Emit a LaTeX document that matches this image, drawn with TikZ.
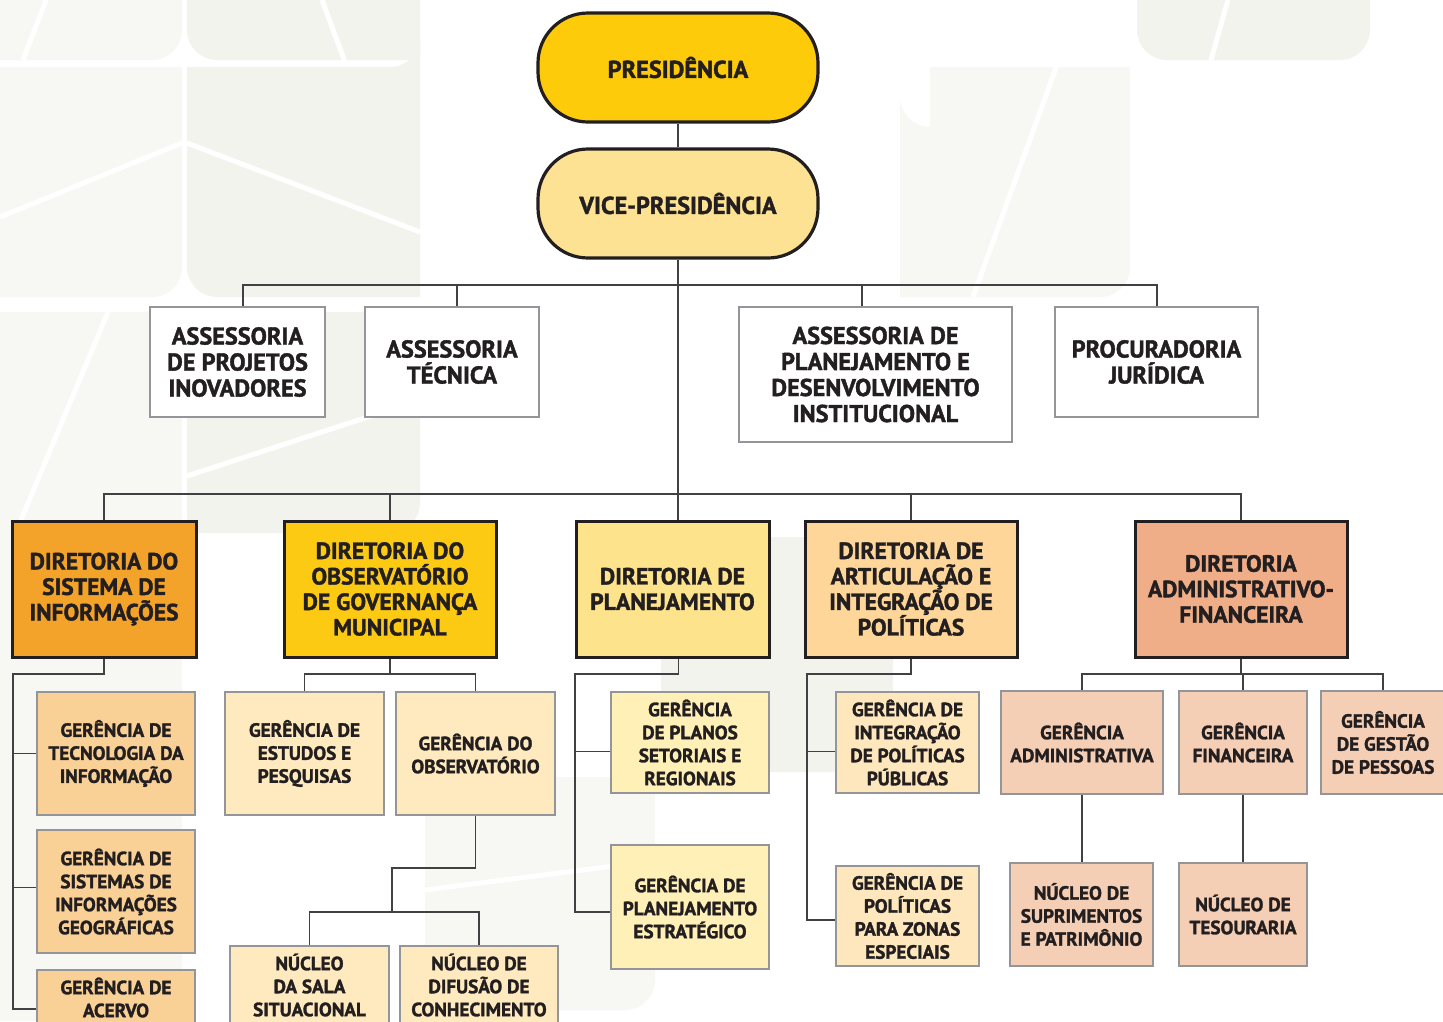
\documentclass[tikz,border=0pt]{standalone}
\usepackage{fontspec}
\setmainfont{PT Sans}[BoldFeatures={FakeBold=1.6}]
\definecolor{ink}{HTML}{231F20}
\definecolor{grayb}{HTML}{939598}
\definecolor{linec}{HTML}{414042}
\definecolor{bgA}{HTML}{F7F7F3}
\definecolor{bgB}{HTML}{F3F3EE}
\definecolor{cpres}{HTML}{FECB0B}
\definecolor{cvp}{HTML}{FDE294}
\definecolor{cdA}{HTML}{F4A32A}
\definecolor{cdB}{HTML}{FCC913}
\definecolor{cdC}{HTML}{FDE38B}
\definecolor{cdD}{HTML}{FED699}
\definecolor{cdE}{HTML}{EFAE88}
\definecolor{cgA}{HTML}{F9D197}
\definecolor{cgB}{HTML}{FEEABE}
\definecolor{cgC}{HTML}{FEF0B7}
\definecolor{cgD}{HTML}{FEE7BD}
\definecolor{cgE}{HTML}{F5CFB5}
\tikzset{
  base/.style={draw, align=center, text=ink, inner sep=0pt},
  sz/.style 2 args={minimum width=#1pt, minimum height=#2pt},
  pill/.style={base, draw=ink, line width=3.2pt, rounded corners=50pt,
    sz={280}{109}, font=\bfseries\fontsize{24.3}{26}\selectfont},
  dirbox/.style={base, draw=ink, line width=3pt, font=\bfseries\fontsize{23.5}{25.5}\selectfont},
  assbox/.style={base, draw=grayb, fill=white, line width=2.5pt, font=\bfseries\fontsize{24.3}{26}\selectfont},
  gerbox/.style={base, draw=grayb, line width=2.5pt, font=\bfseries\fontsize{19.2}{23}\selectfont},
  conn/.style={draw=linec, line width=1.3pt},
  gap/.style={draw=white, line width=5pt},
}
\begin{document}
\begin{tikzpicture}[x=1pt,y=-1pt]
\useasboundingbox (0,0) rectangle (1443,1021);
\clip (0,0) rectangle (1443,1021);
\fill[white] (0,0) rectangle (1443,1021);
% ---- background tiles ----
\fill[bgA] (0,0) -- (182,0) -- (182,30) arc[start angle=0,end angle=90,radius=30] -- (0,60) -- cycle;
\fill[bgB] (187,0) -- (420,0) -- (420,60) -- (217,60) arc[start angle=90,end angle=180,radius=30] -- cycle;
\fill[bgA] (0,67) -- (182,67) -- (182,267) arc[start angle=0,end angle=90,radius=30] -- (0,297) -- cycle;
\fill[bgB] (187,67) -- (390,67) arc[start angle=90,end angle=0,radius=30] -- (420,297) -- (217,297) arc[start angle=90,end angle=180,radius=30] -- cycle;
\fill[bgA] (0,312) rectangle (182,1021);
\fill[bgB] (187,312) -- (420,312) -- (420,503) arc[start angle=0,end angle=90,radius=30] -- (187,533) -- cycle;
\fill[bgA] (425,777) -- (655,777) -- (655,980) arc[start angle=0,end angle=90,radius=30] -- (425,1010) -- cycle;
\fill[bgB] (661,537) -- (893,537) -- (893,742) arc[start angle=0,end angle=90,radius=30] -- (661,772) -- cycle;
\fill[bgA] (930,67) -- (1130,67) -- (1130,267) arc[start angle=0,end angle=90,radius=30] -- (900,297) -- (900,97) arc[start angle=180,end angle=90,radius=30] -- cycle;
\fill[bgB] (1137,0) -- (1370,0) -- (1370,30) arc[start angle=0,end angle=90,radius=30] -- (1167,60) arc[start angle=90,end angle=180,radius=30] -- cycle;
\draw[gap] (46,0) -- (23,60);
\draw[gap] (322,0) -- (345,62);
\draw[gap] (0,217) -- (182,143);
\draw[gap] (187,143) -- (420,232);
\draw[gap] (108,312) -- (21,520);
\draw[gap] (187,476) -- (420,400);
\draw[gap] (1057,65) -- (973,297);
\draw[gap] (1228,0) -- (1211,60);
\draw[gap] (425,890) -- (661,860);
% ---- top ----
\node[pill, fill=cpres] (pres) at (678,67.5) {PRESIDÊNCIA};
\node[pill, fill=cvp] (vp) at (678,203.5) {VICE-PRESIDÊNCIA};
% ---- assessorias ----
\node[assbox, sz={175}{110}] (a1) at (237.5,362) {ASSESSORIA\\DE PROJETOS\\INOVADORES};
\node[assbox, sz={174}{110}] (a2) at (452,362) {ASSESSORIA\\TÉCNICA};
\node[assbox, sz={273}{135}] (a3) at (875.5,374.5) {ASSESSORIA DE\\PLANEJAMENTO E\\DESENVOLVIMENTO\\INSTITUCIONAL};
\node[assbox, sz={203}{110}] (a4) at (1156.5,362) {PROCURADORIA\\JURÍDICA};
% ---- diretorias ----
\node[dirbox, fill=cdA, sz={184}{136}] (d1) at (104,589) {DIRETORIA DO\\SISTEMA DE\\INFORMAÇÕES};
\node[dirbox, fill=cdB, sz={212}{136}] (d2) at (390,589) {DIRETORIA DO\\OBSERVATÓRIO\\DE GOVERNANÇA\\MUNICIPAL};
\node[dirbox, fill=cdC, sz={193}{136}] (d3) at (672.5,589) {DIRETORIA DE\\PLANEJAMENTO};
\node[dirbox, fill=cdD, sz={212}{136}] (d4) at (911,589) {DIRETORIA DE\\ARTICULAÇÃO E\\INTEGRAÇÃO DE\\POLÍTICAS};
\node[dirbox, fill=cdE, sz={212}{136}] (d5) at (1241,589) {DIRETORIA\\ADMINISTRATIVO-\\FINANCEIRA};
% ---- gerencias ----
\node[gerbox, fill=cgA, sz={158}{123}] (g1) at (116,753.5) {GERÊNCIA DE\\TECNOLOGIA DA\\INFORMAÇÃO};
\node[gerbox, fill=cgA, sz={158}{123}] (g2) at (116,891.5) {GERÊNCIA DE\\SISTEMAS DE\\INFORMAÇÕES\\GEOGRÁFICAS};
\node[gerbox, fill=cgA, sz={158}{55}] (g3) at (116,997.5) {GERÊNCIA DE\\ACERVO};
\node[gerbox, fill=cgB, sz={159}{123}] (g4) at (304.5,753.5) {GERÊNCIA DE\\ESTUDOS E\\PESQUISAS};
\node[gerbox, fill=cgB, sz={159}{123}] (g5) at (475.5,753.5) {GERÊNCIA DO\\OBSERVATÓRIO};
\node[gerbox, fill=cgB, sz={159}{78}] (n1) at (309.5,985) {NÚCLEO\\DA SALA\\SITUACIONAL};
\node[gerbox, fill=cgB, sz={158}{78}] (n2) at (479,985) {NÚCLEO DE\\DIFUSÃO DE\\CONHECIMENTO};
\node[gerbox, fill=cgC, sz={158}{101}] (g6) at (690,742.5) {GERÊNCIA\\DE PLANOS\\SETORIAIS E\\REGIONAIS};
\node[gerbox, fill=cgC, sz={158}{124}] (g7) at (690,907) {GERÊNCIA DE\\PLANEJAMENTO\\ESTRATÉGICO};
\node[gerbox, fill=cgD, sz={143}{101}] (g11) at (907.5,742.5) {GERÊNCIA DE\\INTEGRAÇÃO\\DE POLÍTICAS\\PÚBLICAS};
\node[gerbox, fill=cgD, sz={143}{100}] (g12) at (907.5,916) {GERÊNCIA DE\\POLÍTICAS\\PARA ZONAS\\ESPECIAIS};
\node[gerbox, fill=cgE, sz={162}{103}] (g8) at (1082,742.5) {GERÊNCIA\\ADMINISTRATIVA};
\node[gerbox, fill=cgE, sz={128}{103}] (g9) at (1243,742.5) {GERÊNCIA\\FINANCEIRA};
\node[gerbox, fill=cgE, sz={124}{103}] (g10) at (1383,742.5) {GERÊNCIA\\DE GESTÃO\\DE PESSOAS};
\node[gerbox, fill=cgE, sz={143}{103}] (n3) at (1081.5,914.5) {NÚCLEO DE\\SUPRIMENTOS\\E PATRIMÔNIO};
\node[gerbox, fill=cgE, sz={128}{103}] (n4) at (1243,914.5) {NÚCLEO DE\\TESOURARIA};
% ---- connectors ----
\coordinate (busA) at (678,285);
\coordinate (busD) at (678,494);
\draw[conn] (pres) -- (vp);
\draw[conn] (vp.south) -- ([xshift=5.5pt]d3.north);
\draw[conn] ([xshift=5.5pt]a1.north) |- (busA) -| ([xshift=0.5pt]a4.north);
\draw[conn] ([xshift=5pt]a2.north) -- ([xshift=5pt]a2.north |- busA);
\draw[conn] ([xshift=-13.5pt]a3.north) -- ([xshift=-13.5pt]a3.north |- busA);
\draw[conn] (d1.north) |- (busD) -| (d5.north);
\draw[conn] (d2.north) -- (d2.north |- busD);
\draw[conn] (d4.north) -- (d4.north |- busD);
% D1
\coordinate (l1) at (13,674);
\draw[conn] (d1.south) |- (l1) |- ([yshift=-11.5pt]g3.west);
\draw[conn] (l1) |- (g1.west);
\draw[conn] (l1) |- ([yshift=4pt]g2.west);
% D2
\coordinate (l2) at (390,674);
\draw[conn] (d2.south) -- (l2);
\draw[conn] (g4.north) |- (l2) -| (g5.north);
\coordinate (s1) at (392,868);
\coordinate (l3) at (392,912);
\draw[conn] (g5.south) |- (s1) -- (l3);
\draw[conn] (n1.north) |- (l3) -| (n2.north);
% D3
\coordinate (l4) at (575,674);
\draw[conn] ([xshift=6pt]d3.south) |- (l4) |- ([yshift=-5pt]g7.west);
\draw[conn] (l4) |- ([yshift=-9pt]g6.west);
% D4
\coordinate (l5) at (807,674);
\draw[conn] (d4.south) |- (l5) |- ([yshift=-4pt]g12.west);
\draw[conn] (l5) |- ([yshift=-9pt]g11.west);
% D5
\coordinate (l6) at (1241,674);
\draw[conn] (d5.south) -- (l6);
\draw[conn] (g8.north) |- (l6) -| (g10.north);
\draw[conn] (g9.north) -- (g9.north |- l6);
\draw[conn] (g8.south) -- (g8.south |- n3.north);
\draw[conn] (g9.south) -- (n4.north);
\end{tikzpicture}
\end{document}
